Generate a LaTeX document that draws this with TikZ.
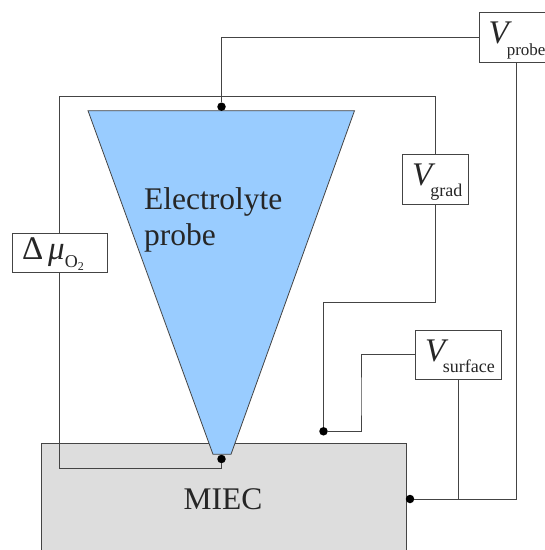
\documentclass[tikz,border=0pt]{standalone}
\usepackage{fontspec}
\usepackage{xcolor}
\setmainfont{Liberation Serif}
\usetikzlibrary{positioning, calc}
\definecolor{PROBEblue}{HTML}{99CCFF}
\definecolor{MIECgrey}{HTML}{DDDDDD}
\definecolor{WIREgrey}{HTML}{444444}
\newcommand{\bigtext}{\fontsize{31.5}{35.7}\selectfont}
\newcommand{\Vlabel}[2]{{\fontsize{33}{33}\selectfont\textit{V}}\kern#1\raisebox{-11.3pt}{\fontsize{18}{18}\selectfont #2}}

\begin{document}
\begin{tikzpicture}[
  x=1pt, y=-1pt,
  box/.style={draw=WIREgrey, fill=white, line width=0.8pt, inner ysep=0pt, inner xsep=9.5pt,
              align=left, text=black!85, text height=31pt, text depth=18.6pt},
  wire/.style={draw=WIREgrey, line width=0.9pt},
  contact/.style={circle, fill=black, inner sep=0pt, minimum size=8.5pt},
  body/.style={draw=WIREgrey, line width=0.8pt},
  label/.style={align=left, text=black!85, font=\bigtext},
]
\clip (0,0) rectangle (545,550);

\draw[body, fill=MIECgrey] (41.7,600) rectangle (406,443.3);
\draw[body, fill=PROBEblue] (88,110.7) -- (354.5,110.7) -- (231,454.3) -- (213,454.3) -- cycle;

\node[label] (miec) at (223,499.5) {MIEC};
\node[label, anchor=north west, inner sep=0pt] (electrolyte) at (144,187.8) {Electrolyte\\probe};

\node[box, text width=56pt] (vprobe) at (516.5,37.5) {\Vlabel{-5pt}{\fontsize{17}{18}\selectfont probe}};
\node[box, text width=47pt] (vgrad) at (435.5,179.2) {\Vlabel{-5pt}{grad}};
\node[box, text width=67pt] (vsurface) at (458.6,354.9) {\Vlabel{-5.5pt}{surface}};
\node[box, text width=75.5pt, text height=26pt, text depth=13.4pt] (deltamu) at (59.75,253)
  {{\fontsize{33}{33}\selectfont Δ\kern5pt\textit{μ}}\raisebox{-8.4pt}{\fontsize{18}{18}\selectfont O\raisebox{-3pt}{\fontsize{12}{12}\selectfont 2}}};

\node[contact] (probedot) at (221.5,106.7) {};
\node[contact] (tipdot) at (221.5,459) {};
\node[contact] (gapdot) at (323.5,431.3) {};
\node[contact] (miecdot) at (410,499) {};

\coordinate (looptop) at (221.5,96.7);
\coordinate (tipbend) at (221.5,468.3);
\coordinate (gradbend) at (323.5,302.7);
\coordinate (surfbend) at (361,400);

\draw[wire] (vprobe.west) -| (probedot);
\draw[wire] (deltamu.north) |- (looptop) -| (vgrad.north);
\draw[wire] (deltamu.south) |- (tipbend) -- (tipdot);
\draw[wire] (vgrad.south) |- (gradbend) -- (gapdot);
\draw[wire] (vsurface.west) -| (surfbend) |- (gapdot);
\draw[wire] (vsurface.south) |- (miecdot);
\draw[wire] (vprobe.south) |- (miecdot);
\end{tikzpicture}
\end{document}
